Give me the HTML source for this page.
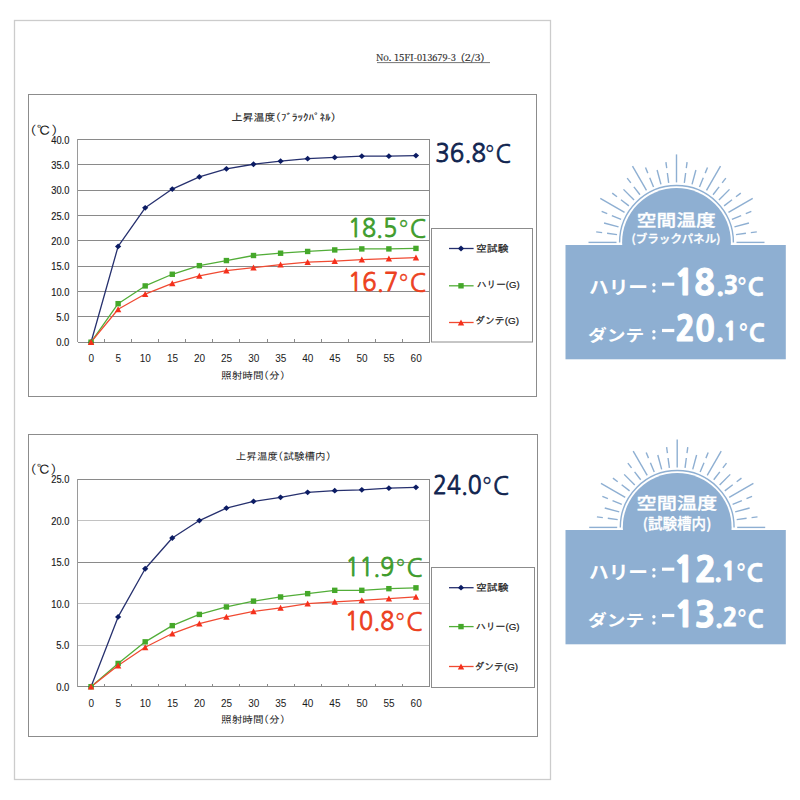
<!DOCTYPE html>
<html><head><meta charset="utf-8"><title>上昇温度</title>
<style>html,body{margin:0;padding:0;background:#fff;}svg{display:block;}</style></head>
<body><svg width="800" height="800" viewBox="0 0 800 800">
<rect x="14.5" y="20.5" width="536" height="759" fill="none" stroke="#cccccc" stroke-width="1.3"/>
<text x="376.00" y="60.50" font-family="'Noto Serif CJK JP',sans-serif" font-size="9.60" fill="#2a2a2a" textLength="79.90" lengthAdjust="spacingAndGlyphs" stroke="#2a2a2a" stroke-width="0.2">No. 15FI-013679-3</text>
<text x="460.75" y="60.50" font-family="'Noto Serif CJK JP',sans-serif" font-size="9.60" fill="#2a2a2a" textLength="23.84" lengthAdjust="spacingAndGlyphs" stroke="#2a2a2a" stroke-width="0.2">(2/3)</text>
<line x1="377" y1="62.6" x2="490" y2="62.6" stroke="#666" stroke-width="0.9"/>
<rect x="28.5" y="94.5" width="508.0" height="302.0" fill="#fff" stroke="#8c8c8c" stroke-width="1"/>
<text x="56.23" y="346.40" font-family="'Liberation Sans',sans-serif" font-size="10.00" fill="#1a1a1a" stroke="#1a1a1a" stroke-width="0.15" textLength="13.12" lengthAdjust="spacingAndGlyphs">0.0</text>
<text x="56.23" y="321.05" font-family="'Liberation Sans',sans-serif" font-size="10.00" fill="#1a1a1a" stroke="#1a1a1a" stroke-width="0.15" textLength="13.12" lengthAdjust="spacingAndGlyphs">5.0</text>
<text x="51.22" y="295.70" font-family="'Liberation Sans',sans-serif" font-size="10.00" fill="#1a1a1a" stroke="#1a1a1a" stroke-width="0.15" textLength="18.13" lengthAdjust="spacingAndGlyphs">10.0</text>
<text x="51.22" y="270.35" font-family="'Liberation Sans',sans-serif" font-size="10.00" fill="#1a1a1a" stroke="#1a1a1a" stroke-width="0.15" textLength="18.13" lengthAdjust="spacingAndGlyphs">15.0</text>
<text x="51.22" y="245.00" font-family="'Liberation Sans',sans-serif" font-size="10.00" fill="#1a1a1a" stroke="#1a1a1a" stroke-width="0.15" textLength="18.13" lengthAdjust="spacingAndGlyphs">20.0</text>
<text x="51.22" y="219.65" font-family="'Liberation Sans',sans-serif" font-size="10.00" fill="#1a1a1a" stroke="#1a1a1a" stroke-width="0.15" textLength="18.13" lengthAdjust="spacingAndGlyphs">25.0</text>
<text x="51.22" y="194.30" font-family="'Liberation Sans',sans-serif" font-size="10.00" fill="#1a1a1a" stroke="#1a1a1a" stroke-width="0.15" textLength="18.13" lengthAdjust="spacingAndGlyphs">30.0</text>
<text x="51.22" y="168.95" font-family="'Liberation Sans',sans-serif" font-size="10.00" fill="#1a1a1a" stroke="#1a1a1a" stroke-width="0.15" textLength="18.13" lengthAdjust="spacingAndGlyphs">35.0</text>
<text x="51.22" y="143.60" font-family="'Liberation Sans',sans-serif" font-size="10.00" fill="#1a1a1a" stroke="#1a1a1a" stroke-width="0.15" textLength="18.13" lengthAdjust="spacingAndGlyphs">40.0</text>
<g stroke="#8a8a8a" stroke-width="1" shape-rendering="crispEdges"><line x1="77.5" y1="342.20" x2="429.5" y2="342.20"/><line x1="77.5" y1="316.85" x2="429.5" y2="316.85"/><line x1="77.5" y1="291.50" x2="429.5" y2="291.50"/><line x1="77.5" y1="266.15" x2="429.5" y2="266.15"/><line x1="77.5" y1="240.80" x2="429.5" y2="240.80"/><line x1="77.5" y1="215.45" x2="429.5" y2="215.45"/><line x1="77.5" y1="190.10" x2="429.5" y2="190.10"/><line x1="77.5" y1="164.75" x2="429.5" y2="164.75"/><line x1="77.5" y1="139.40" x2="429.5" y2="139.40"/><line x1="429.5" y1="139.4" x2="429.5" y2="342.2"/><line x1="104.58" y1="339.2" x2="104.58" y2="342.2"/><line x1="131.65" y1="339.2" x2="131.65" y2="342.2"/><line x1="158.73" y1="339.2" x2="158.73" y2="342.2"/><line x1="185.81" y1="339.2" x2="185.81" y2="342.2"/><line x1="212.88" y1="339.2" x2="212.88" y2="342.2"/><line x1="239.96" y1="339.2" x2="239.96" y2="342.2"/><line x1="267.04" y1="339.2" x2="267.04" y2="342.2"/><line x1="294.12" y1="339.2" x2="294.12" y2="342.2"/><line x1="321.19" y1="339.2" x2="321.19" y2="342.2"/><line x1="348.27" y1="339.2" x2="348.27" y2="342.2"/><line x1="375.35" y1="339.2" x2="375.35" y2="342.2"/><line x1="402.42" y1="339.2" x2="402.42" y2="342.2"/></g>
<line x1="77.5" y1="139.4" x2="77.5" y2="342.2" stroke="#9a9a9a" stroke-width="1" shape-rendering="crispEdges"/>
<text x="91.24" y="362.40" text-anchor="middle" font-family="'Liberation Sans',sans-serif" font-size="10.00" fill="#1a1a1a">0</text>
<text x="118.32" y="362.40" text-anchor="middle" font-family="'Liberation Sans',sans-serif" font-size="10.00" fill="#1a1a1a">5</text>
<text x="145.39" y="362.40" text-anchor="middle" font-family="'Liberation Sans',sans-serif" font-size="10.00" fill="#1a1a1a">10</text>
<text x="172.47" y="362.40" text-anchor="middle" font-family="'Liberation Sans',sans-serif" font-size="10.00" fill="#1a1a1a">15</text>
<text x="199.55" y="362.40" text-anchor="middle" font-family="'Liberation Sans',sans-serif" font-size="10.00" fill="#1a1a1a">20</text>
<text x="226.62" y="362.40" text-anchor="middle" font-family="'Liberation Sans',sans-serif" font-size="10.00" fill="#1a1a1a">25</text>
<text x="253.70" y="362.40" text-anchor="middle" font-family="'Liberation Sans',sans-serif" font-size="10.00" fill="#1a1a1a">30</text>
<text x="280.78" y="362.40" text-anchor="middle" font-family="'Liberation Sans',sans-serif" font-size="10.00" fill="#1a1a1a">35</text>
<text x="307.85" y="362.40" text-anchor="middle" font-family="'Liberation Sans',sans-serif" font-size="10.00" fill="#1a1a1a">40</text>
<text x="334.93" y="362.40" text-anchor="middle" font-family="'Liberation Sans',sans-serif" font-size="10.00" fill="#1a1a1a">45</text>
<text x="362.01" y="362.40" text-anchor="middle" font-family="'Liberation Sans',sans-serif" font-size="10.00" fill="#1a1a1a">50</text>
<text x="389.08" y="362.40" text-anchor="middle" font-family="'Liberation Sans',sans-serif" font-size="10.00" fill="#1a1a1a">55</text>
<text x="416.16" y="362.40" text-anchor="middle" font-family="'Liberation Sans',sans-serif" font-size="10.00" fill="#1a1a1a">60</text>
<text x="29.80" y="134.80" font-family="'IPAGothic',sans-serif" font-size="12.30" fill="#1a1a1a" textLength="28.17" lengthAdjust="spacingAndGlyphs">(℃)</text>
<text x="231.50" y="120.90" font-family="'IPAGothic',sans-serif" font-size="10.25" fill="#1a1a1a" textLength="104.58" lengthAdjust="spacingAndGlyphs" stroke="#1a1a1a" stroke-width="0.1">上昇温度(ﾌﾞﾗｯｸﾊﾟﾈﾙ)</text>
<text x="221.00" y="378.90" font-family="'IPAGothic',sans-serif" font-size="9.90" fill="#1a1a1a" textLength="64.10" lengthAdjust="spacingAndGlyphs">照射時間(分)</text>
<path d="M91.04 342.20 L118.12 246.38 L145.19 207.84 L172.27 189.09 L199.35 176.92 L226.42 168.81 L253.50 164.24 L280.58 161.20 L307.65 158.67 L334.73 157.40 L361.81 156.13 L388.88 156.13 L415.96 155.62" fill="none" stroke="#26306e" stroke-width="1.3" stroke-linejoin="round"/>
<path d="M91.04 342.20 L118.12 303.67 L145.19 285.92 L172.27 274.26 L199.35 265.64 L226.42 260.57 L253.50 255.50 L280.58 253.22 L307.65 251.45 L334.73 249.93 L361.81 248.91 L388.88 248.91 L415.96 248.41" fill="none" stroke="#52ad38" stroke-width="1.3" stroke-linejoin="round"/>
<path d="M91.04 342.20 L118.12 309.25 L145.19 294.03 L172.27 283.39 L199.35 275.78 L226.42 270.71 L253.50 267.67 L280.58 264.63 L307.65 262.09 L334.73 261.08 L361.81 259.56 L388.88 258.54 L415.96 257.53" fill="none" stroke="#f04a32" stroke-width="1.3" stroke-linejoin="round"/>
<path d="M91.04 339.30L94.14 342.20L91.04 345.10L87.94 342.20Z" fill="#0c1c64"/>
<path d="M118.12 243.48L121.22 246.38L118.12 249.28L115.02 246.38Z" fill="#0c1c64"/>
<path d="M145.19 204.94L148.29 207.84L145.19 210.75L142.09 207.84Z" fill="#0c1c64"/>
<path d="M172.27 186.19L175.37 189.09L172.27 191.99L169.17 189.09Z" fill="#0c1c64"/>
<path d="M199.35 174.02L202.45 176.92L199.35 179.82L196.25 176.92Z" fill="#0c1c64"/>
<path d="M226.42 165.91L229.52 168.81L226.42 171.71L223.32 168.81Z" fill="#0c1c64"/>
<path d="M253.50 161.34L256.60 164.24L253.50 167.14L250.40 164.24Z" fill="#0c1c64"/>
<path d="M280.58 158.30L283.68 161.20L280.58 164.10L277.48 161.20Z" fill="#0c1c64"/>
<path d="M307.65 155.77L310.75 158.67L307.65 161.57L304.55 158.67Z" fill="#0c1c64"/>
<path d="M334.73 154.50L337.83 157.40L334.73 160.30L331.63 157.40Z" fill="#0c1c64"/>
<path d="M361.81 153.23L364.91 156.13L361.81 159.03L358.71 156.13Z" fill="#0c1c64"/>
<path d="M388.88 153.23L391.98 156.13L388.88 159.03L385.78 156.13Z" fill="#0c1c64"/>
<path d="M415.96 152.72L419.06 155.62L415.96 158.52L412.86 155.62Z" fill="#0c1c64"/>
<rect x="88.34" y="339.50" width="5.40" height="5.40" fill="#45a82a"/>
<rect x="115.42" y="300.97" width="5.40" height="5.40" fill="#45a82a"/>
<rect x="142.49" y="283.22" width="5.40" height="5.40" fill="#45a82a"/>
<rect x="169.57" y="271.56" width="5.40" height="5.40" fill="#45a82a"/>
<rect x="196.65" y="262.94" width="5.40" height="5.40" fill="#45a82a"/>
<rect x="223.72" y="257.87" width="5.40" height="5.40" fill="#45a82a"/>
<rect x="250.80" y="252.80" width="5.40" height="5.40" fill="#45a82a"/>
<rect x="277.88" y="250.52" width="5.40" height="5.40" fill="#45a82a"/>
<rect x="304.95" y="248.75" width="5.40" height="5.40" fill="#45a82a"/>
<rect x="332.03" y="247.23" width="5.40" height="5.40" fill="#45a82a"/>
<rect x="359.11" y="246.21" width="5.40" height="5.40" fill="#45a82a"/>
<rect x="386.18" y="246.21" width="5.40" height="5.40" fill="#45a82a"/>
<rect x="413.26" y="245.71" width="5.40" height="5.40" fill="#45a82a"/>
<path d="M91.04 339.10L94.24 345.10L87.84 345.10Z" fill="#f5301c"/>
<path d="M118.12 306.14L121.32 312.14L114.92 312.14Z" fill="#f5301c"/>
<path d="M145.19 290.93L148.39 296.93L141.99 296.93Z" fill="#f5301c"/>
<path d="M172.27 280.29L175.47 286.29L169.07 286.29Z" fill="#f5301c"/>
<path d="M199.35 272.68L202.55 278.68L196.15 278.68Z" fill="#f5301c"/>
<path d="M226.42 267.61L229.62 273.61L223.22 273.61Z" fill="#f5301c"/>
<path d="M253.50 264.57L256.70 270.57L250.30 270.57Z" fill="#f5301c"/>
<path d="M280.58 261.53L283.78 267.53L277.38 267.53Z" fill="#f5301c"/>
<path d="M307.65 258.99L310.85 264.99L304.45 264.99Z" fill="#f5301c"/>
<path d="M334.73 257.98L337.93 263.98L331.53 263.98Z" fill="#f5301c"/>
<path d="M361.81 256.46L365.01 262.46L358.61 262.46Z" fill="#f5301c"/>
<path d="M388.88 255.44L392.08 261.44L385.68 261.44Z" fill="#f5301c"/>
<path d="M415.96 254.43L419.16 260.43L412.76 260.43Z" fill="#f5301c"/>
<rect x="431.5" y="228.5" width="101.0" height="113.5" fill="#fff" stroke="#8c8c8c" stroke-width="1"/>
<line x1="449" y1="248.5" x2="473.6" y2="248.5" stroke="#26306e" stroke-width="1.3"/>
<path d="M461.00 245.60L464.10 248.50L461.00 251.40L457.90 248.50Z" fill="#0c1c64"/>
<text x="476.00" y="252.00" font-family="'IPAGothic',sans-serif" font-size="9.70" fill="#1a1a1a" textLength="32.55" lengthAdjust="spacingAndGlyphs" stroke="#1a1a1a" stroke-width="0.2">空試験</text>
<line x1="449" y1="285.8" x2="473.6" y2="285.8" stroke="#52ad38" stroke-width="1.3"/>
<rect x="458.30" y="283.10" width="5.40" height="5.40" fill="#45a82a"/>
<text x="477.00" y="288.00" font-family="'Liberation Sans','IPAGothic',sans-serif" font-size="9.70" fill="#1a1a1a" textLength="42.62" lengthAdjust="spacingAndGlyphs" stroke="#1a1a1a" stroke-width="0.2">ハリー(G)</text>
<line x1="449" y1="322.5" x2="473.6" y2="322.5" stroke="#f04a32" stroke-width="1.3"/>
<path d="M461.00 319.40L464.20 325.40L457.80 325.40Z" fill="#f5301c"/>
<text x="475.00" y="324.40" font-family="'Liberation Sans','IPAGothic',sans-serif" font-size="9.70" fill="#1a1a1a" textLength="44.10" lengthAdjust="spacingAndGlyphs" stroke="#1a1a1a" stroke-width="0.2">ダンテ(G)</text>
<text x="435.25" y="162.30" font-family="'NanumGothic',sans-serif" font-size="25.00" fill="#10244f" textLength="50.66" lengthAdjust="spacingAndGlyphs" stroke="#10244f" stroke-width="0.85">36.8</text>
<text x="484.00" y="163.30" font-family="'NanumGothic',sans-serif" font-size="25.00" fill="#10244f" textLength="27.15" lengthAdjust="spacingAndGlyphs" stroke="#10244f" stroke-width="0.7"><tspan font-family="DejaVu Sans" font-weight="200" stroke-width="0.45">°</tspan>C</text>
<text x="348.00" y="237.30" font-family="'NanumGothic',sans-serif" font-size="25.00" fill="#3e9c2c" textLength="49.21" lengthAdjust="spacingAndGlyphs" stroke="#3e9c2c" stroke-width="0.85">18.5</text>
<text x="397.50" y="238.30" font-family="'NanumGothic',sans-serif" font-size="25.00" fill="#3e9c2c" textLength="28.73" lengthAdjust="spacingAndGlyphs" stroke="#3e9c2c" stroke-width="0.7"><tspan font-family="DejaVu Sans" font-weight="200" stroke-width="0.45">°</tspan>C</text>
<text x="348.00" y="290.90" font-family="'NanumGothic',sans-serif" font-size="25.00" fill="#ec4020" textLength="50.26" lengthAdjust="spacingAndGlyphs" stroke="#ec4020" stroke-width="0.85">16.7</text>
<text x="397.50" y="291.90" font-family="'NanumGothic',sans-serif" font-size="25.00" fill="#ec4020" textLength="28.73" lengthAdjust="spacingAndGlyphs" stroke="#ec4020" stroke-width="0.7"><tspan font-family="DejaVu Sans" font-weight="200" stroke-width="0.45">°</tspan>C</text>
<rect x="28.5" y="434.5" width="509.0" height="302.0" fill="#fff" stroke="#8c8c8c" stroke-width="1"/>
<text x="56.23" y="690.90" font-family="'Liberation Sans',sans-serif" font-size="10.00" fill="#1a1a1a" stroke="#1a1a1a" stroke-width="0.15" textLength="13.12" lengthAdjust="spacingAndGlyphs">0.0</text>
<text x="56.23" y="649.36" font-family="'Liberation Sans',sans-serif" font-size="10.00" fill="#1a1a1a" stroke="#1a1a1a" stroke-width="0.15" textLength="13.12" lengthAdjust="spacingAndGlyphs">5.0</text>
<text x="51.22" y="607.82" font-family="'Liberation Sans',sans-serif" font-size="10.00" fill="#1a1a1a" stroke="#1a1a1a" stroke-width="0.15" textLength="18.13" lengthAdjust="spacingAndGlyphs">10.0</text>
<text x="51.22" y="566.28" font-family="'Liberation Sans',sans-serif" font-size="10.00" fill="#1a1a1a" stroke="#1a1a1a" stroke-width="0.15" textLength="18.13" lengthAdjust="spacingAndGlyphs">15.0</text>
<text x="51.22" y="524.74" font-family="'Liberation Sans',sans-serif" font-size="10.00" fill="#1a1a1a" stroke="#1a1a1a" stroke-width="0.15" textLength="18.13" lengthAdjust="spacingAndGlyphs">20.0</text>
<text x="51.22" y="483.20" font-family="'Liberation Sans',sans-serif" font-size="10.00" fill="#1a1a1a" stroke="#1a1a1a" stroke-width="0.15" textLength="18.13" lengthAdjust="spacingAndGlyphs">25.0</text>
<g stroke="#8a8a8a" stroke-width="1" shape-rendering="crispEdges"><line x1="77.5" y1="686.70" x2="429.5" y2="686.70"/><line x1="77.5" y1="645.16" x2="429.5" y2="645.16" stroke="#c2c2c2"/><line x1="77.5" y1="603.62" x2="429.5" y2="603.62" stroke="#c2c2c2"/><line x1="77.5" y1="562.08" x2="429.5" y2="562.08"/><line x1="77.5" y1="520.54" x2="429.5" y2="520.54" stroke="#c2c2c2"/><line x1="77.5" y1="479.00" x2="429.5" y2="479.00"/><line x1="429.5" y1="479" x2="429.5" y2="686.7"/><line x1="104.58" y1="683.7" x2="104.58" y2="686.7"/><line x1="131.65" y1="683.7" x2="131.65" y2="686.7"/><line x1="158.73" y1="683.7" x2="158.73" y2="686.7"/><line x1="185.81" y1="683.7" x2="185.81" y2="686.7"/><line x1="212.88" y1="683.7" x2="212.88" y2="686.7"/><line x1="239.96" y1="683.7" x2="239.96" y2="686.7"/><line x1="267.04" y1="683.7" x2="267.04" y2="686.7"/><line x1="294.12" y1="683.7" x2="294.12" y2="686.7"/><line x1="321.19" y1="683.7" x2="321.19" y2="686.7"/><line x1="348.27" y1="683.7" x2="348.27" y2="686.7"/><line x1="375.35" y1="683.7" x2="375.35" y2="686.7"/><line x1="402.42" y1="683.7" x2="402.42" y2="686.7"/></g>
<line x1="77.5" y1="479" x2="77.5" y2="686.7" stroke="#9a9a9a" stroke-width="1" shape-rendering="crispEdges"/>
<text x="91.24" y="707.20" text-anchor="middle" font-family="'Liberation Sans',sans-serif" font-size="10.00" fill="#1a1a1a">0</text>
<text x="118.32" y="707.20" text-anchor="middle" font-family="'Liberation Sans',sans-serif" font-size="10.00" fill="#1a1a1a">5</text>
<text x="145.39" y="707.20" text-anchor="middle" font-family="'Liberation Sans',sans-serif" font-size="10.00" fill="#1a1a1a">10</text>
<text x="172.47" y="707.20" text-anchor="middle" font-family="'Liberation Sans',sans-serif" font-size="10.00" fill="#1a1a1a">15</text>
<text x="199.55" y="707.20" text-anchor="middle" font-family="'Liberation Sans',sans-serif" font-size="10.00" fill="#1a1a1a">20</text>
<text x="226.62" y="707.20" text-anchor="middle" font-family="'Liberation Sans',sans-serif" font-size="10.00" fill="#1a1a1a">25</text>
<text x="253.70" y="707.20" text-anchor="middle" font-family="'Liberation Sans',sans-serif" font-size="10.00" fill="#1a1a1a">30</text>
<text x="280.78" y="707.20" text-anchor="middle" font-family="'Liberation Sans',sans-serif" font-size="10.00" fill="#1a1a1a">35</text>
<text x="307.85" y="707.20" text-anchor="middle" font-family="'Liberation Sans',sans-serif" font-size="10.00" fill="#1a1a1a">40</text>
<text x="334.93" y="707.20" text-anchor="middle" font-family="'Liberation Sans',sans-serif" font-size="10.00" fill="#1a1a1a">45</text>
<text x="362.01" y="707.20" text-anchor="middle" font-family="'Liberation Sans',sans-serif" font-size="10.00" fill="#1a1a1a">50</text>
<text x="389.08" y="707.20" text-anchor="middle" font-family="'Liberation Sans',sans-serif" font-size="10.00" fill="#1a1a1a">55</text>
<text x="416.16" y="707.20" text-anchor="middle" font-family="'Liberation Sans',sans-serif" font-size="10.00" fill="#1a1a1a">60</text>
<text x="30.00" y="474.20" font-family="'IPAGothic',sans-serif" font-size="12.30" fill="#1a1a1a" textLength="27.14" lengthAdjust="spacingAndGlyphs">(℃)</text>
<text x="235.80" y="460.20" font-family="'IPAGothic',sans-serif" font-size="10.25" fill="#1a1a1a" textLength="95.17" lengthAdjust="spacingAndGlyphs">上昇温度(試験槽内)</text>
<text x="221.00" y="723.40" font-family="'IPAGothic',sans-serif" font-size="9.90" fill="#1a1a1a" textLength="64.10" lengthAdjust="spacingAndGlyphs">照射時間(分)</text>
<path d="M91.04 686.70 L118.12 616.91 L145.19 568.73 L172.27 537.99 L199.35 520.54 L226.42 508.08 L253.50 501.43 L280.58 497.28 L307.65 492.29 L334.73 490.63 L361.81 489.80 L388.88 488.14 L415.96 487.31" fill="none" stroke="#26306e" stroke-width="1.3" stroke-linejoin="round"/>
<path d="M91.04 686.70 L118.12 663.44 L145.19 641.84 L172.27 625.64 L199.35 614.42 L226.42 606.94 L253.50 601.13 L280.58 596.97 L307.65 593.65 L334.73 590.33 L361.81 590.33 L388.88 588.67 L415.96 587.83" fill="none" stroke="#52ad38" stroke-width="1.3" stroke-linejoin="round"/>
<path d="M91.04 686.70 L118.12 665.51 L145.19 647.24 L172.27 633.53 L199.35 623.56 L226.42 616.91 L253.50 611.43 L280.58 607.77 L307.65 603.62 L334.73 601.96 L361.81 600.30 L388.88 598.64 L415.96 596.97" fill="none" stroke="#f04a32" stroke-width="1.3" stroke-linejoin="round"/>
<path d="M91.04 683.80L94.14 686.70L91.04 689.60L87.94 686.70Z" fill="#0c1c64"/>
<path d="M118.12 614.01L121.22 616.91L118.12 619.81L115.02 616.91Z" fill="#0c1c64"/>
<path d="M145.19 565.83L148.29 568.73L145.19 571.63L142.09 568.73Z" fill="#0c1c64"/>
<path d="M172.27 535.09L175.37 537.99L172.27 540.89L169.17 537.99Z" fill="#0c1c64"/>
<path d="M199.35 517.64L202.45 520.54L199.35 523.44L196.25 520.54Z" fill="#0c1c64"/>
<path d="M226.42 505.18L229.52 508.08L226.42 510.98L223.32 508.08Z" fill="#0c1c64"/>
<path d="M253.50 498.53L256.60 501.43L253.50 504.33L250.40 501.43Z" fill="#0c1c64"/>
<path d="M280.58 494.38L283.68 497.28L280.58 500.18L277.48 497.28Z" fill="#0c1c64"/>
<path d="M307.65 489.39L310.75 492.29L307.65 495.19L304.55 492.29Z" fill="#0c1c64"/>
<path d="M334.73 487.73L337.83 490.63L334.73 493.53L331.63 490.63Z" fill="#0c1c64"/>
<path d="M361.81 486.90L364.91 489.80L361.81 492.70L358.71 489.80Z" fill="#0c1c64"/>
<path d="M388.88 485.24L391.98 488.14L388.88 491.04L385.78 488.14Z" fill="#0c1c64"/>
<path d="M415.96 484.41L419.06 487.31L415.96 490.21L412.86 487.31Z" fill="#0c1c64"/>
<rect x="88.34" y="684.00" width="5.40" height="5.40" fill="#45a82a"/>
<rect x="115.42" y="660.74" width="5.40" height="5.40" fill="#45a82a"/>
<rect x="142.49" y="639.14" width="5.40" height="5.40" fill="#45a82a"/>
<rect x="169.57" y="622.94" width="5.40" height="5.40" fill="#45a82a"/>
<rect x="196.65" y="611.72" width="5.40" height="5.40" fill="#45a82a"/>
<rect x="223.72" y="604.24" width="5.40" height="5.40" fill="#45a82a"/>
<rect x="250.80" y="598.43" width="5.40" height="5.40" fill="#45a82a"/>
<rect x="277.88" y="594.27" width="5.40" height="5.40" fill="#45a82a"/>
<rect x="304.95" y="590.95" width="5.40" height="5.40" fill="#45a82a"/>
<rect x="332.03" y="587.63" width="5.40" height="5.40" fill="#45a82a"/>
<rect x="359.11" y="587.63" width="5.40" height="5.40" fill="#45a82a"/>
<rect x="386.18" y="585.97" width="5.40" height="5.40" fill="#45a82a"/>
<rect x="413.26" y="585.13" width="5.40" height="5.40" fill="#45a82a"/>
<path d="M91.04 683.60L94.24 689.60L87.84 689.60Z" fill="#f5301c"/>
<path d="M118.12 662.41L121.32 668.41L114.92 668.41Z" fill="#f5301c"/>
<path d="M145.19 644.14L148.39 650.14L141.99 650.14Z" fill="#f5301c"/>
<path d="M172.27 630.43L175.47 636.43L169.07 636.43Z" fill="#f5301c"/>
<path d="M199.35 620.46L202.55 626.46L196.15 626.46Z" fill="#f5301c"/>
<path d="M226.42 613.81L229.62 619.81L223.22 619.81Z" fill="#f5301c"/>
<path d="M253.50 608.33L256.70 614.33L250.30 614.33Z" fill="#f5301c"/>
<path d="M280.58 604.67L283.78 610.67L277.38 610.67Z" fill="#f5301c"/>
<path d="M307.65 600.52L310.85 606.52L304.45 606.52Z" fill="#f5301c"/>
<path d="M334.73 598.86L337.93 604.86L331.53 604.86Z" fill="#f5301c"/>
<path d="M361.81 597.20L365.01 603.20L358.61 603.20Z" fill="#f5301c"/>
<path d="M388.88 595.54L392.08 601.54L385.68 601.54Z" fill="#f5301c"/>
<path d="M415.96 593.87L419.16 599.87L412.76 599.87Z" fill="#f5301c"/>
<rect x="431.5" y="567.5" width="103.0" height="120.0" fill="#fff" stroke="#8c8c8c" stroke-width="1"/>
<line x1="449" y1="587.7" x2="473.6" y2="587.7" stroke="#26306e" stroke-width="1.3"/>
<path d="M461.00 584.80L464.10 587.70L461.00 590.60L457.90 587.70Z" fill="#0c1c64"/>
<text x="476.00" y="590.90" font-family="'IPAGothic',sans-serif" font-size="9.70" fill="#1a1a1a" textLength="32.54" lengthAdjust="spacingAndGlyphs" stroke="#1a1a1a" stroke-width="0.2">空試験</text>
<line x1="449" y1="626.6" x2="473.6" y2="626.6" stroke="#52ad38" stroke-width="1.3"/>
<rect x="458.30" y="623.90" width="5.40" height="5.40" fill="#45a82a"/>
<text x="476.00" y="630.10" font-family="'Liberation Sans','IPAGothic',sans-serif" font-size="9.70" fill="#1a1a1a" textLength="43.61" lengthAdjust="spacingAndGlyphs" stroke="#1a1a1a" stroke-width="0.2">ハリー(G)</text>
<line x1="449" y1="666.5" x2="473.6" y2="666.5" stroke="#f04a32" stroke-width="1.3"/>
<path d="M461.00 663.40L464.20 669.40L457.80 669.40Z" fill="#f5301c"/>
<text x="474.50" y="669.70" font-family="'Liberation Sans','IPAGothic',sans-serif" font-size="9.70" fill="#1a1a1a" textLength="43.56" lengthAdjust="spacingAndGlyphs" stroke="#1a1a1a" stroke-width="0.2">ダンテ(G)</text>
<text x="433.00" y="493.50" font-family="'NanumGothic',sans-serif" font-size="25.00" fill="#10244f" textLength="48.83" lengthAdjust="spacingAndGlyphs" stroke="#10244f" stroke-width="0.85">24.0</text>
<text x="481.00" y="494.50" font-family="'NanumGothic',sans-serif" font-size="25.00" fill="#10244f" textLength="28.20" lengthAdjust="spacingAndGlyphs" stroke="#10244f" stroke-width="0.7"><tspan font-family="DejaVu Sans" font-weight="200" stroke-width="0.45">°</tspan>C</text>
<text x="345.50" y="575.50" font-family="'NanumGothic',sans-serif" font-size="25.00" fill="#3e9c2c" textLength="48.73" lengthAdjust="spacingAndGlyphs" stroke="#3e9c2c" stroke-width="0.85">11.9</text>
<text x="394.50" y="576.50" font-family="'NanumGothic',sans-serif" font-size="25.00" fill="#3e9c2c" textLength="28.20" lengthAdjust="spacingAndGlyphs" stroke="#3e9c2c" stroke-width="0.7"><tspan font-family="DejaVu Sans" font-weight="200" stroke-width="0.45">°</tspan>C</text>
<text x="345.00" y="629.50" font-family="'NanumGothic',sans-serif" font-size="25.00" fill="#ec4020" textLength="49.25" lengthAdjust="spacingAndGlyphs" stroke="#ec4020" stroke-width="0.85">10.8</text>
<text x="394.00" y="630.50" font-family="'NanumGothic',sans-serif" font-size="25.00" fill="#ec4020" textLength="28.73" lengthAdjust="spacingAndGlyphs" stroke="#ec4020" stroke-width="0.7"><tspan font-family="DejaVu Sans" font-weight="200" stroke-width="0.45">°</tspan>C</text>
<g stroke="#8eafd2" stroke-width="1.4"><line x1="616.50" y1="242.40" x2="588.50" y2="242.40"/><line x1="617.01" y1="234.57" x2="607.10" y2="233.26"/><line x1="602.14" y1="232.61" x2="596.19" y2="231.83"/><line x1="618.54" y1="226.87" x2="604.06" y2="222.99"/><line x1="621.07" y1="219.44" x2="611.83" y2="215.61"/><line x1="607.21" y1="213.70" x2="601.67" y2="211.40"/><line x1="624.54" y1="212.40" x2="600.29" y2="198.40"/><line x1="628.90" y1="205.87" x2="620.97" y2="199.79"/><line x1="617.00" y1="196.74" x2="612.24" y2="193.09"/><line x1="634.07" y1="199.97" x2="623.47" y2="189.37"/><line x1="639.97" y1="194.80" x2="633.89" y2="186.87"/><line x1="630.84" y1="182.90" x2="627.19" y2="178.14"/><line x1="646.50" y1="190.44" x2="632.50" y2="166.19"/><line x1="653.54" y1="186.97" x2="649.71" y2="177.73"/><line x1="647.80" y1="173.11" x2="645.50" y2="167.57"/><line x1="660.97" y1="184.44" x2="657.09" y2="169.96"/><line x1="668.67" y1="182.91" x2="667.36" y2="173.00"/><line x1="666.71" y1="168.04" x2="665.93" y2="162.09"/><line x1="676.50" y1="182.40" x2="676.50" y2="154.40"/><line x1="684.33" y1="182.91" x2="685.64" y2="173.00"/><line x1="686.29" y1="168.04" x2="687.07" y2="162.09"/><line x1="692.03" y1="184.44" x2="695.91" y2="169.96"/><line x1="699.46" y1="186.97" x2="703.29" y2="177.73"/><line x1="705.20" y1="173.11" x2="707.50" y2="167.57"/><line x1="706.50" y1="190.44" x2="720.50" y2="166.19"/><line x1="713.03" y1="194.80" x2="719.11" y2="186.87"/><line x1="722.16" y1="182.90" x2="725.81" y2="178.14"/><line x1="718.93" y1="199.97" x2="729.53" y2="189.37"/><line x1="724.10" y1="205.87" x2="732.03" y2="199.79"/><line x1="736.00" y1="196.74" x2="740.76" y2="193.09"/><line x1="728.46" y1="212.40" x2="752.71" y2="198.40"/><line x1="731.93" y1="219.44" x2="741.17" y2="215.61"/><line x1="745.79" y1="213.70" x2="751.33" y2="211.40"/><line x1="734.46" y1="226.87" x2="748.94" y2="222.99"/><line x1="735.99" y1="234.57" x2="745.90" y2="233.26"/><line x1="750.86" y1="232.61" x2="756.81" y2="231.83"/><line x1="736.50" y1="242.40" x2="764.50" y2="242.40"/></g>
<path d="M619.60 242.40 A56.9 56.9 0 0 1 733.40 242.40" fill="none" stroke="#8eafd2" stroke-width="1.4"/>
<circle cx="676.5" cy="242.4" r="54.4" fill="#8eafd2"/>
<rect x="565.5" y="245" width="220.3" height="114.3" fill="#8eafd2"/>
<text x="636.75" y="226.30" font-family="'Noto Sans CJK JP',sans-serif" font-size="15.90" font-weight="500" fill="#fff" textLength="78.85" lengthAdjust="spacingAndGlyphs" stroke="#fff" stroke-width="0.3">空間温度</text>
<text x="631.50" y="243.00" font-family="'Noto Sans CJK JP',sans-serif" font-size="11.20" font-weight="500" fill="#fff" textLength="88.91" lengthAdjust="spacingAndGlyphs" stroke="#fff" stroke-width="0.3">(ブラックパネル)</text>
<text x="589.00" y="294.25" font-family="'Noto Sans CJK JP',sans-serif" font-size="18.28" font-weight="bold" fill="#fff" textLength="59.03" lengthAdjust="spacingAndGlyphs">ハリー</text>
<circle cx="653.9" cy="284.80" r="1.7" fill="#fff"/>
<circle cx="653.9" cy="291.00" r="1.7" fill="#fff"/>
<rect x="662" y="282.60" width="12.3" height="3.2" fill="#fff"/>
<text x="674.50" y="295.20" font-family="'NanumGothic',sans-serif" font-size="34.30" font-weight="800" fill="#fff" textLength="40.03" lengthAdjust="spacingAndGlyphs" stroke="#fff" stroke-width="1.1">18</text>
<text x="716.50" y="294.20" font-family="'NanumGothic',sans-serif" font-size="24.20" font-weight="800" fill="#fff" textLength="21.67" lengthAdjust="spacingAndGlyphs" stroke="#fff" stroke-width="0.8">.3</text>
<text x="736.50" y="296.20" font-family="'NanumGothic',sans-serif" font-size="24.20" font-weight="800" fill="#fff" textLength="27.23" lengthAdjust="spacingAndGlyphs" stroke="#fff" stroke-width="0.5"><tspan font-family="DejaVu Sans Condensed" font-weight="bold" stroke-width="0">°</tspan>C</text>
<text x="588.00" y="341.00" font-family="'Noto Sans CJK JP',sans-serif" font-size="16.10" font-weight="bold" fill="#fff" textLength="56.19" lengthAdjust="spacingAndGlyphs">ダンテ</text>
<circle cx="653.9" cy="331.80" r="1.7" fill="#fff"/>
<circle cx="653.9" cy="338.00" r="1.7" fill="#fff"/>
<rect x="662" y="328.90" width="12.3" height="3.2" fill="#fff"/>
<text x="675.50" y="341.20" font-family="'NanumGothic',sans-serif" font-size="34.30" font-weight="800" fill="#fff" textLength="39.09" lengthAdjust="spacingAndGlyphs" stroke="#fff" stroke-width="1.1">20</text>
<text x="716.50" y="340.20" font-family="'NanumGothic',sans-serif" font-size="24.20" font-weight="800" fill="#fff" textLength="20.72" lengthAdjust="spacingAndGlyphs" stroke="#fff" stroke-width="0.8">.1</text>
<text x="738.00" y="342.20" font-family="'NanumGothic',sans-serif" font-size="24.20" font-weight="800" fill="#fff" textLength="26.97" lengthAdjust="spacingAndGlyphs" stroke="#fff" stroke-width="0.5"><tspan font-family="DejaVu Sans Condensed" font-weight="bold" stroke-width="0">°</tspan>C</text>
<g stroke="#8eafd2" stroke-width="1.4"><line x1="617.20" y1="527.40" x2="589.20" y2="527.40"/><line x1="617.71" y1="519.57" x2="607.80" y2="518.26"/><line x1="602.84" y1="517.61" x2="596.89" y2="516.83"/><line x1="619.24" y1="511.87" x2="604.76" y2="507.99"/><line x1="621.77" y1="504.44" x2="612.53" y2="500.61"/><line x1="607.91" y1="498.70" x2="602.37" y2="496.40"/><line x1="625.24" y1="497.40" x2="600.99" y2="483.40"/><line x1="629.60" y1="490.87" x2="621.67" y2="484.79"/><line x1="617.70" y1="481.74" x2="612.94" y2="478.09"/><line x1="634.77" y1="484.97" x2="624.17" y2="474.37"/><line x1="640.67" y1="479.80" x2="634.59" y2="471.87"/><line x1="631.54" y1="467.90" x2="627.89" y2="463.14"/><line x1="647.20" y1="475.44" x2="633.20" y2="451.19"/><line x1="654.24" y1="471.97" x2="650.41" y2="462.73"/><line x1="648.50" y1="458.11" x2="646.20" y2="452.57"/><line x1="661.67" y1="469.44" x2="657.79" y2="454.96"/><line x1="669.37" y1="467.91" x2="668.06" y2="458.00"/><line x1="667.41" y1="453.04" x2="666.63" y2="447.09"/><line x1="677.20" y1="467.40" x2="677.20" y2="439.40"/><line x1="685.03" y1="467.91" x2="686.34" y2="458.00"/><line x1="686.99" y1="453.04" x2="687.77" y2="447.09"/><line x1="692.73" y1="469.44" x2="696.61" y2="454.96"/><line x1="700.16" y1="471.97" x2="703.99" y2="462.73"/><line x1="705.90" y1="458.11" x2="708.20" y2="452.57"/><line x1="707.20" y1="475.44" x2="721.20" y2="451.19"/><line x1="713.73" y1="479.80" x2="719.81" y2="471.87"/><line x1="722.86" y1="467.90" x2="726.51" y2="463.14"/><line x1="719.63" y1="484.97" x2="730.23" y2="474.37"/><line x1="724.80" y1="490.87" x2="732.73" y2="484.79"/><line x1="736.70" y1="481.74" x2="741.46" y2="478.09"/><line x1="729.16" y1="497.40" x2="753.41" y2="483.40"/><line x1="732.63" y1="504.44" x2="741.87" y2="500.61"/><line x1="746.49" y1="498.70" x2="752.03" y2="496.40"/><line x1="735.16" y1="511.87" x2="749.64" y2="507.99"/><line x1="736.69" y1="519.57" x2="746.60" y2="518.26"/><line x1="751.56" y1="517.61" x2="757.51" y2="516.83"/><line x1="737.20" y1="527.40" x2="765.20" y2="527.40"/></g>
<path d="M620.30 527.40 A56.9 56.9 0 0 1 734.10 527.40" fill="none" stroke="#8eafd2" stroke-width="1.4"/>
<circle cx="677.2" cy="527.4" r="54.4" fill="#8eafd2"/>
<rect x="565.5" y="530" width="220.3" height="114.3" fill="#8eafd2"/>
<text x="589.00" y="579.25" font-family="'Noto Sans CJK JP',sans-serif" font-size="18.28" font-weight="bold" fill="#fff" textLength="59.03" lengthAdjust="spacingAndGlyphs">ハリー</text>
<circle cx="653.9" cy="569.80" r="1.7" fill="#fff"/>
<circle cx="653.9" cy="576.00" r="1.7" fill="#fff"/>
<rect x="662" y="567.60" width="12.3" height="3.2" fill="#fff"/>
<text x="673.75" y="581.80" font-family="'NanumGothic',sans-serif" font-size="34.30" font-weight="800" fill="#fff" textLength="42.52" lengthAdjust="spacingAndGlyphs" stroke="#fff" stroke-width="1.1">12</text>
<text x="714.50" y="579.50" font-family="'NanumGothic',sans-serif" font-size="24.20" font-weight="800" fill="#fff" textLength="21.49" lengthAdjust="spacingAndGlyphs" stroke="#fff" stroke-width="0.8">.1</text>
<text x="735.50" y="581.50" font-family="'NanumGothic',sans-serif" font-size="24.20" font-weight="800" fill="#fff" textLength="27.73" lengthAdjust="spacingAndGlyphs" stroke="#fff" stroke-width="0.5"><tspan font-family="DejaVu Sans Condensed" font-weight="bold" stroke-width="0">°</tspan>C</text>
<text x="588.00" y="626.00" font-family="'Noto Sans CJK JP',sans-serif" font-size="16.10" font-weight="bold" fill="#fff" textLength="56.19" lengthAdjust="spacingAndGlyphs">ダンテ</text>
<circle cx="653.9" cy="616.80" r="1.7" fill="#fff"/>
<circle cx="653.9" cy="623.00" r="1.7" fill="#fff"/>
<rect x="662" y="613.90" width="12.3" height="3.2" fill="#fff"/>
<text x="674.50" y="626.80" font-family="'NanumGothic',sans-serif" font-size="34.30" font-weight="800" fill="#fff" textLength="40.75" lengthAdjust="spacingAndGlyphs" stroke="#fff" stroke-width="1.1">13</text>
<text x="715.25" y="625.80" font-family="'NanumGothic',sans-serif" font-size="24.20" font-weight="800" fill="#fff" textLength="22.16" lengthAdjust="spacingAndGlyphs" stroke="#fff" stroke-width="0.8">.2</text>
<text x="736.50" y="627.80" font-family="'NanumGothic',sans-serif" font-size="24.20" font-weight="800" fill="#fff" textLength="27.23" lengthAdjust="spacingAndGlyphs" stroke="#fff" stroke-width="0.5"><tspan font-family="DejaVu Sans Condensed" font-weight="bold" stroke-width="0">°</tspan>C</text>
<text x="636.50" y="508.75" font-family="'Noto Sans CJK JP',sans-serif" font-size="16.10" font-weight="500" fill="#fff" textLength="80.66" lengthAdjust="spacingAndGlyphs" stroke="#fff" stroke-width="0.3">空間温度</text>
<text x="642.75" y="528.70" font-family="'Noto Sans CJK JP',sans-serif" font-size="14.33" font-weight="500" fill="#fff" textLength="68.56" lengthAdjust="spacingAndGlyphs" stroke="#fff" stroke-width="0.3">(試験槽内)</text>
</svg></body></html>
